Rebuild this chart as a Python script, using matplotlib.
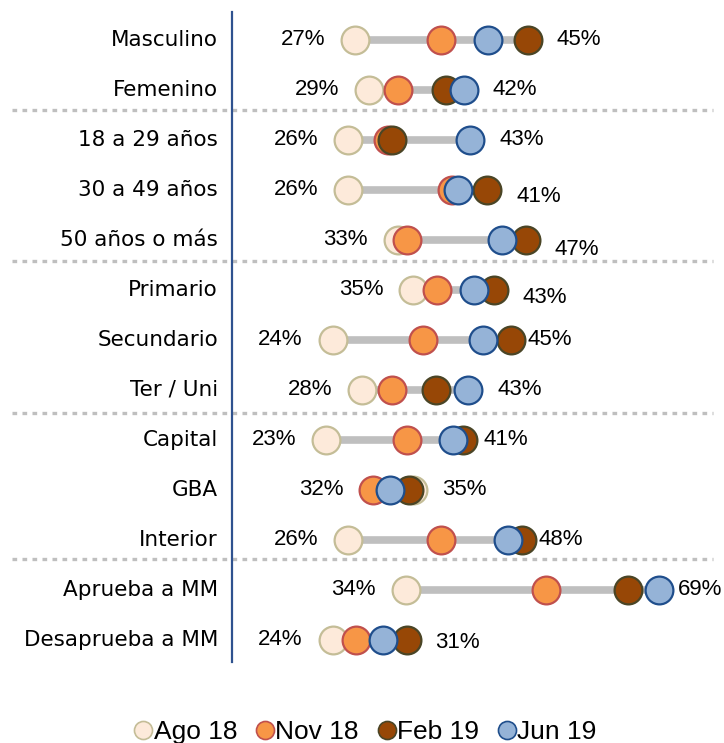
import matplotlib.pyplot as plt
from matplotlib.lines import Line2D
from matplotlib.transforms import blended_transform_factory
import numpy as np

plt.rcParams['font.family'] = ['Liberation Sans', 'DejaVu Sans']

categories = ['Masculino', 'Femenino', '18 a 29 años', '30 a 49 años', '50 años o más',
              'Primario', 'Secundario', 'Ter / Uni', 'Capital', 'GBA', 'Interior',
              'Aprueba a MM', 'Desaprueba a MM']

series_names = ['Ago 18', 'Nov 18', 'Feb 19', 'Jun 19']

# positions (percent)
ago18 = [26.9, 28.8, 26.0, 26.0, 32.7, 34.8, 23.9, 27.9, 23.0, 34.8, 26.0, 33.8, 23.9]
nov18 = [38.6, 32.7, 31.4, 40.0, 33.9, 38.0, 36.1, 31.9, 33.9, 29.4, 38.5, 52.7, 27.1]
feb19 = [50.3, 39.2, 31.9, 44.8, 50.0, 45.7, 48.0, 37.9, 41.5, 34.2, 49.5, 63.8, 33.9]
jun19 = [44.9, 41.6, 42.5, 40.8, 46.8, 43.0, 44.2, 42.2, 40.2, 31.6, 47.6, 68.0, 30.7]

# labels as printed on the chart
low_labels = ['27%', '29%', '26%', '26%', '33%', '35%', '24%', '28%', '23%', '32%', '26%', '34%', '24%']
high_labels = ['45%', '42%', '43%', '41%', '47%', '43%', '45%', '43%', '41%', '35%', '48%', '69%', '31%']

separators = [1.4, 4.42, 7.46, 10.38]

faces = ['#FDEADA', '#F79646', '#974706', '#95B3D7']
edges = ['#C4BD97', '#C0504D', '#4A4526', '#1F4E8C']

fig = plt.figure(figsize=(7.24, 7.43), dpi=100)
ax = fig.add_axes([232 / 724, 1 - 662 / 743, (724 - 232) / 724, 650 / 743])

data = np.array([ago18, nov18, feb19, jun19])
y = np.arange(len(categories))
lo = data.min(axis=0)
hi = data.max(axis=0)

# grey connecting bars
for i in y:
    ax.plot([lo[i], hi[i]], [i, i], color='#BFBFBF', lw=5.5, solid_capstyle='butt', zorder=1)

for k, vals in enumerate(data):
    ax.plot(vals, y, ls='none', marker='o', ms=20, mfc=faces[k], mec=edges[k],
            mew=1.6, zorder=2 + k)

# value labels (pixel nudges where the original sits off the default spot)
drop = {3: 7, 4: 10, 5: 8, 12: 3}
gap = {6: 17, 8: 21, 10: 16, 11: 19}
for i in y:
    ax.annotate(low_labels[i], (lo[i], i), xytext=(-21.5, 0), textcoords='offset points',
                ha='right', va='center', fontsize=16)
    ax.annotate(high_labels[i], (hi[i], i),
                xytext=(gap.get(i, 29) * 0.72, -drop.get(i, 0) * 0.72),
                textcoords='offset points', ha='left', va='center', fontsize=16)

# dotted group separators
trans = blended_transform_factory(fig.transFigure, ax.transData)
for s in separators:
    ax.plot([12 / 724, 713 / 724], [s, s], transform=trans, clip_on=False,
            color='#BFBFBF', lw=2.4, ls=(0, (1.4, 1.6)), zorder=0)

ax.set_xlim(10.3, 76.8)
ax.set_ylim(12.45, -0.55)
ax.set_yticks(y)
ax.set_yticklabels(categories, fontsize=15.5, family='DejaVu Sans', va='center')
ax.set_xticks([])
ax.tick_params(axis='y', length=0, pad=10)
for side in ['top', 'right', 'bottom']:
    ax.spines[side].set_visible(False)
ax.spines['left'].set_color('#2F528F')
ax.spines['left'].set_linewidth(1.6)

handles = [Line2D([], [], ls='none', marker='o', ms=13, mfc=faces[k], mec=edges[k], mew=1.2)
           for k in range(4)]
fig.legend(handles, series_names, loc='lower center', bbox_to_anchor=(0.5, -0.026), ncol=4,
           frameon=False, fontsize=19, handletextpad=-0.2, columnspacing=0.45,
           handlelength=1.2, borderpad=0.2)

fig.savefig('out.png', dpi=100)
